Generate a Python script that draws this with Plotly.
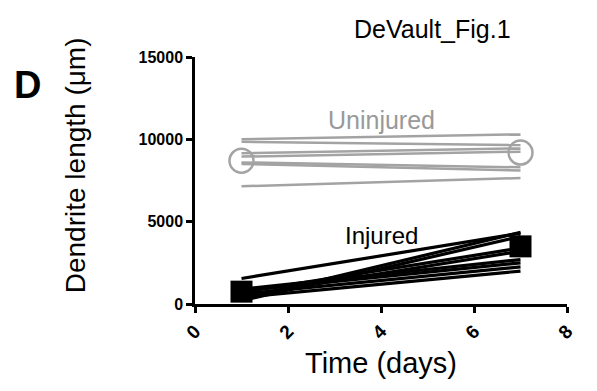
import plotly.graph_objects as go

# Time points (days)
days = [1, 7]

# Dendrite length per animal (µm), uninjured group
uninjured_day1 = [10000, 9850, 9150, 8950, 8600, 8500, 7150]
uninjured_day7 = [10300, 9650, 9450, 9250, 8300, 8100, 7650]
uninjured_mean = [8700, 9200]

# Dendrite length per animal (µm), injured group
injured_day1 = [1550, 300, 200, 700, 500, 900, 800, 600, 400]
injured_day7 = [4300, 4350, 4100, 3400, 3200, 2700, 2500, 2250, 2000]
injured_mean = [750, 3500]

x_ticks = [0, 2, 4, 6, 8]
y_ticks = [0, 5000, 10000, 15000]

FONT = "Arial, Liberation Sans, Helvetica, sans-serif"
GRAY = "#a3a3a3"

fig = go.Figure()

for a, b in zip(uninjured_day1, uninjured_day7):
    fig.add_trace(go.Scatter(x=days, y=[a, b], mode="lines",
                             line=dict(color=GRAY, width=2.5),
                             showlegend=False, hoverinfo="skip"))
for a, b in zip(injured_day1, injured_day7):
    fig.add_trace(go.Scatter(x=days, y=[a, b], mode="lines",
                             line=dict(color="black", width=3.2),
                             showlegend=False, hoverinfo="skip"))

fig.add_trace(go.Scatter(x=days, y=uninjured_mean, mode="markers",
                         marker=dict(symbol="circle-open", size=24,
                                     color=GRAY, line=dict(width=2.5, color=GRAY)),
                         showlegend=False))
fig.add_trace(go.Scatter(x=days, y=injured_mean, mode="markers",
                         marker=dict(symbol="square", size=22, color="black"),
                         showlegend=False))

axis_common = dict(showline=True, linecolor="black", linewidth=2.5,
                   ticks="outside", ticklen=6, tickwidth=2.5, tickcolor="black",
                   showgrid=False, zeroline=False)

fig.update_xaxes(range=[0, 8], tickvals=x_ticks, ticktext=[str(v) for v in x_ticks],
                 tickangle=-45,
                 tickfont=dict(family=FONT, size=19, color="black", weight="bold"),
                 **axis_common)
fig.update_yaxes(range=[0, 15000], tickvals=y_ticks, ticktext=[str(v) for v in y_ticks],
                 tickfont=dict(family=FONT, size=16, color="black", weight="bold"),
                 **axis_common)

annotations = [
    dict(text="Uninjured", x=4, y=11150, xref="x", yref="y", showarrow=False,
         font=dict(family=FONT, size=25, color="#999999")),
    dict(text="Injured", x=4, y=4180, xref="x", yref="y", showarrow=False,
         font=dict(family=FONT, size=24, color="black")),
    dict(text="Dendrite length (μm)", x=-0.3226, y=0.5616, xref="paper", yref="paper",
         textangle=-90, showarrow=False, xanchor="center", yanchor="middle",
         font=dict(family=FONT, size=28, color="black")),
    dict(text="Time (days)", x=0.5, y=-0.238, xref="paper", yref="paper",
         showarrow=False, xanchor="center", yanchor="middle",
         font=dict(family=FONT, size=29, color="black")),
    dict(text="<b>D</b>", x=-0.4516, y=0.885, xref="paper", yref="paper",
         showarrow=False, xanchor="center", yanchor="middle",
         font=dict(family=FONT, size=38, color="black")),
    dict(text="DeVault_Fig.1", x=0.855, y=1.115, xref="paper", yref="paper",
         showarrow=False, xanchor="right", yanchor="middle",
         font=dict(family=FONT, size=25, color="black")),
]

fig.update_layout(width=597, height=391,
                  margin=dict(l=195, r=30, t=56.5, b=87),
                  plot_bgcolor="white", paper_bgcolor="white",
                  annotations=annotations, showlegend=False)

fig.write_html("out.html")
